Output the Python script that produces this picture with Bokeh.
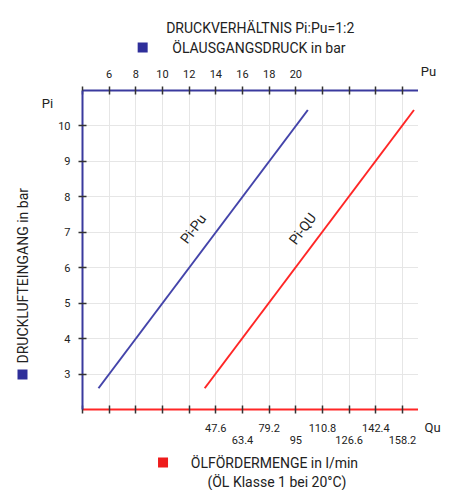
import math
from bokeh.plotting import figure
from bokeh.layouts import row, column
from bokeh.models import Range1d, LinearAxis, FixedTicker
from bokeh.core.properties import value
from bokeh.embed import file_html
from bokeh.resources import INLINE

# ---- data ----
pi_vals = [2.6, 10.45]          # Druckluft-Eingang (bar)
pu_vals = [5.2, 20.9]           # Öl-Ausgangsdruck (bar)
qu_vals = [41.0, 165.0]         # Öl-Fördermenge (l/min)
pu_ticks = [4, 6, 8, 10, 12, 14, 16, 18, 20, 22, 24, 26, 28]
pu_labels = ["", "6", "8", "10", "12", "14", "16", "18", "20", "", "", "", ""]
qu_ticks = [-31.4, -15.6, 0.2, 16.0, 31.8, 47.6, 63.4, 79.2, 95.0, 110.8, 126.6, 142.4, 158.2]
qu_labels_high = ["", "", "", "", "", "47.6", "", "79.2", "", "110.8", "", "142.4", ""]
qu_labels_low = ["", "", "", "", "", "", "63.4", "", "95", "", "126.6", "", "158.2"]
pi_ticks = [3, 4, 5, 6, 7, 8, 9, 10]

FONT = "Roboto"
BLUE = "#3a3a9e"
BLUE_LINE = "#4444aa"
SQ_BLUE = "#2e2e9a"
RED = "#ff2626"
SQ_RED = "#ee1c1c"
TXT = "#222222"

H = 490
LX = 55            # left strip width
FL, FT, FR, FB = 82, 90, 418, 409   # frame edges (page px)
MT, MB = 60, 453   # main figure top / bottom (page px)
RW = 26            # right strip width


def strip(x0, y0, x1, y1):
    """Blank figure whose frame fills its canvas; coordinates = page pixels."""
    f = figure(width=x1 - x0, height=y1 - y0,
               x_range=Range1d(x0, x1), y_range=Range1d(y1, y0),
               x_axis_location=None, y_axis_location=None,
               output_backend="svg", toolbar_location=None,
               min_border=0, min_border_left=0, min_border_right=0,
               min_border_top=0, min_border_bottom=0)
    f.outline_line_color = None
    f.grid.visible = False
    return f


def txt(f, s, x, y, size="13px", align="left", angle=0.0, color=TXT):
    f.text(x=[x], y=[y], text=[s], text_font=value(FONT), text_font_size=size,
           text_color=color, text_align=align, text_baseline="middle", angle=angle)


# ---- main chart ----
p = figure(width=FR - LX, height=MB - MT, x_range=Range1d(4, 29.2), y_range=Range1d(2, 11),
           x_axis_location=None, y_axis_location=None,
           output_backend="svg", toolbar_location=None,
           min_border_left=FL - LX, min_border_right=0,
           min_border_top=FT - MT, min_border_bottom=MB - FB)
p.outline_line_color = None
p.extra_x_ranges = {"qu": Range1d(-31.4, 167.68)}

xt = FixedTicker(ticks=pu_ticks)
yt = FixedTicker(ticks=pi_ticks)
qt = FixedTicker(ticks=qu_ticks)

p.xgrid.ticker = xt
p.ygrid.ticker = yt
p.xgrid.grid_line_color = "#e6e6e6"
p.ygrid.grid_line_color = "#e6e6e6"


def style(ax, color):
    ax.axis_line_color = color
    ax.axis_line_width = 2
    ax.major_tick_line_color = "#333333"
    ax.major_tick_line_width = 1.5
    ax.major_tick_in = 4
    ax.major_tick_out = 4
    ax.minor_tick_line_color = None
    ax.major_label_text_font = FONT
    ax.major_label_text_font_size = "11px"
    ax.major_label_text_color = TXT


top = LinearAxis(ticker=xt, major_label_overrides=dict(zip(pu_ticks, pu_labels)))
style(top, BLUE)
top.major_label_standoff = 9
p.add_layout(top, "above")

left = LinearAxis(ticker=yt)
style(left, BLUE)
left.major_label_standoff = 8
p.add_layout(left, "left")

bot1 = LinearAxis(x_range_name="qu", ticker=qt,
                  major_label_overrides=dict(zip(qu_ticks, qu_labels_high)))
style(bot1, RED)
bot1.major_label_standoff = 10
p.add_layout(bot1, "below")

bot2 = LinearAxis(x_range_name="qu", ticker=qt,
                  major_label_overrides=dict(zip(qu_ticks, qu_labels_low)))
style(bot2, RED)
bot2.axis_line_color = None
bot2.major_tick_line_color = None
bot2.major_tick_in = 0
bot2.major_tick_out = 0
bot2.major_label_standoff = 1
p.add_layout(bot2, "below")

p.line(pu_vals, pi_vals, line_color=BLUE_LINE, line_width=2)
p.line(qu_vals, pi_vals, line_color=RED, line_width=2, x_range_name="qu")

ang = math.atan2(35.44, 26.67)
txt(p, "Pi-Pu", 12.3, 7.1, size="14px", align="center", angle=ang)
txt(p, "Pi-QU", 20.5, 7.1, size="14px", align="center", angle=ang)

# ---- surrounding texts ----
top_f = strip(LX, 0, FR, MT)
txt(top_f, "DRUCKVERHÄLTNIS Pi:Pu=1:2", 247, 27, size="14px", align="center")
top_f.scatter(x=[120], y=[47], marker="square", size=10, fill_color=SQ_BLUE, line_color=None)
txt(top_f, "ÖLAUSGANGSDRUCK in bar", 152, 47, size="14px")

bot_f = strip(LX, MB, FR, H)
bot_f.scatter(x=[142], y=[462], marker="square", size=10, fill_color=SQ_RED, line_color=None)
txt(bot_f, "ÖLFÖRDERMENGE in l/min", 172, 462, size="14px")
txt(bot_f, "(ÖL Klasse 1 bei 20°C)", 265, 481, size="14px", align="center")

left_f = strip(0, 0, LX, H)
txt(left_f, "DRUCKLUFTEINGANG in bar", 22, 363, size="14px", angle=math.pi / 2)
left_f.scatter(x=[22], y=[374], marker="square", size=10, fill_color=SQ_BLUE, line_color=None)
txt(left_f, "Pi", 47, 103, size="13px", align="center")

right_f = strip(FR, 0, FR + RW, H)
txt(right_f, "Pu", 428, 71, size="13px", align="center")
txt(right_f, "Qu", 432, 427, size="13px", align="center")

layout = row(left_f, column(top_f, p, bot_f), right_f)
open("out.html", "w").write(file_html(layout, INLINE))
